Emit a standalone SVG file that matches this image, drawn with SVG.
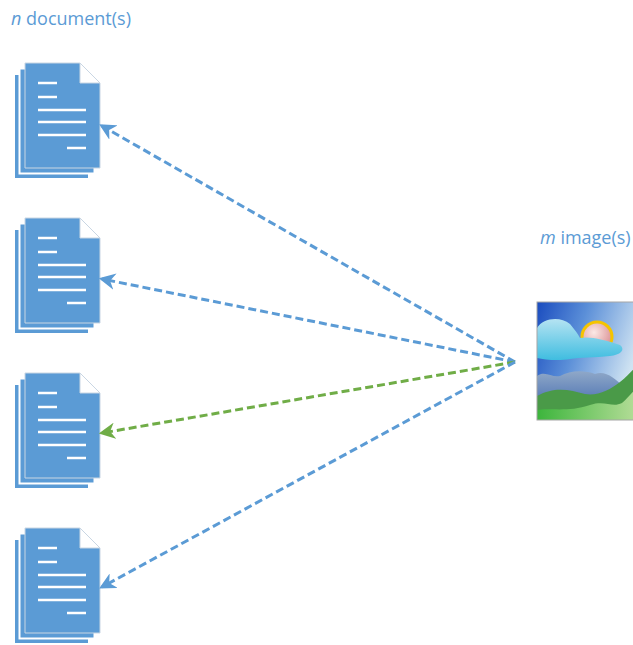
<svg xmlns="http://www.w3.org/2000/svg" width="633" height="645" viewBox="0 0 633 645">
  <style>
    .label { font-family: "Open Sans", "Noto Sans", sans-serif; font-size: 18px; fill: #5B9BD5; }
    .page { fill: #5B9BD5; stroke: #ffffff; stroke-width: 2; }
    .front { fill: #5B9BD5; stroke: #c9d6e3; stroke-width: 1; }
    .txt { stroke: #ffffff; stroke-width: 2.5; }
    .link { fill: none; stroke-width: 3; stroke-dasharray: 8 4; }
    .blue { stroke: #5B9BD5; }
    .green { stroke: #70AD47; }
  </style>
  <defs>
    <marker id="headBlue" viewBox="0 0 10 10" refX="8" refY="5" markerWidth="5.5" markerHeight="5.5" orient="auto-start-reverse" markerUnits="strokeWidth">
      <path d="M0,0 L10,5 L0,10 L3,5 Z" fill="#5B9BD5"/>
    </marker>
    <marker id="headGreen" viewBox="0 0 10 10" refX="8" refY="5" markerWidth="5.5" markerHeight="5.5" orient="auto-start-reverse" markerUnits="strokeWidth">
      <path d="M0,0 L10,5 L0,10 L3,5 Z" fill="#70AD47"/>
    </marker>
    <!-- stacked document icon, origin at top-left of the front page -->
    <g id="docIcon">
      <polygon class="page" points="0,0 55,0 75,20 75,105 0,105" transform="translate(-11,11)"/>
      <polygon class="page" points="0,0 55,0 75,20 75,105 0,105" transform="translate(-5.5,5.5)"/>
      <polygon class="front" points="0,0 55,0 75,20 75,105 0,105"/>
      <polygon points="55,0 55,20 75,20" fill="#ffffff" stroke="#c9d6e3" stroke-width="1"/>
      <line class="txt" x1="13" y1="20" x2="32" y2="20"/>
      <line class="txt" x1="13" y1="34" x2="32" y2="34"/>
      <line class="txt" x1="13" y1="47" x2="61" y2="47"/>
      <line class="txt" x1="13" y1="59" x2="61" y2="59"/>
      <line class="txt" x1="13" y1="72" x2="61" y2="72"/>
      <line class="txt" x1="42" y1="85" x2="61" y2="85"/>
    </g>
    <linearGradient id="sky" x1="0" y1="0" x2="1" y2="0.4">
      <stop offset="0" stop-color="#1a4cbf"/>
      <stop offset="0.45" stop-color="#5b8fd8"/>
      <stop offset="1" stop-color="#cfe3f2"/>
    </linearGradient>
    <radialGradient id="sun" cx="0.4" cy="0.35" r="0.7">
      <stop offset="0" stop-color="#fbe9e6"/>
      <stop offset="1" stop-color="#d98b8f"/>
    </radialGradient>
    <linearGradient id="cloud" x1="0" y1="0" x2="0" y2="1">
      <stop offset="0" stop-color="#b5e3f2"/>
      <stop offset="1" stop-color="#3fbde0"/>
    </linearGradient>
    <linearGradient id="mount" x1="0" y1="0" x2="0" y2="1">
      <stop offset="0" stop-color="#8fa8c8"/>
      <stop offset="1" stop-color="#2f5aa8"/>
    </linearGradient>
    <linearGradient id="hillLight" x1="0" y1="0" x2="1" y2="0">
      <stop offset="0" stop-color="#3cb53c"/>
      <stop offset="1" stop-color="#b5dd98"/>
    </linearGradient>
    <clipPath id="picClip">
      <rect x="537" y="302" width="100" height="118"/>
    </clipPath>
  </defs>

  <text class="label" x="11" y="25"><tspan font-style="italic">n</tspan> document(s)</text>
  <text class="label" x="540" y="244"><tspan font-style="italic">m</tspan> image(s)</text>

  <g id="doc1"><use href="#docIcon" x="25" y="63"/></g>
  <g id="doc2"><use href="#docIcon" x="25" y="218"/></g>
  <g id="doc3"><use href="#docIcon" x="25" y="373"/></g>
  <g id="doc4"><use href="#docIcon" x="25" y="528"/></g>

  <g id="image">
    <g clip-path="url(#picClip)">
      <rect x="537" y="302" width="100" height="118" fill="url(#sky)"/>
      <circle cx="597" cy="337" r="15" fill="url(#sun)" stroke="#f5c400" stroke-width="3"/>
      <path d="M537,328 C543,318 560,316 570,324 C575,330 578,334 580,338 C590,336 605,340 620,345 C626,350 620,355 610,356 C595,358 580,357 570,359 C560,361 545,360 537,358 Z" fill="url(#cloud)"/>
      <path d="M537,376 C545,370 552,378 560,376 C570,370 585,370 595,374 C605,370 615,378 625,388 L637,392 L637,420 L537,420 Z" fill="url(#mount)"/>
      <path d="M537,396 C555,386 570,390 585,394 C598,396 610,390 620,382 C628,376 632,370 637,366 L637,420 L537,420 Z" fill="#4a9a48"/>
      <path d="M537,410 C555,408 570,412 590,405 C605,400 612,408 622,403 C628,398 632,392 637,388 L637,420 L537,420 Z" fill="url(#hillLight)"/>
    </g>
    <rect x="537" y="302" width="100" height="118" fill="none" stroke="#a6a6a6" stroke-width="1"/>
  </g>

  <g id="connectors">
    <line class="link blue" x1="515" y1="362" x2="102" y2="126" marker-end="url(#headBlue)"/>
    <line class="link blue" x1="515" y1="362" x2="102" y2="279" marker-end="url(#headBlue)"/>
    <line class="link green" x1="515" y1="362" x2="102" y2="433" marker-end="url(#headGreen)"/>
    <line class="link blue" x1="515" y1="362" x2="102" y2="587" marker-end="url(#headBlue)"/>
  </g>
</svg>
